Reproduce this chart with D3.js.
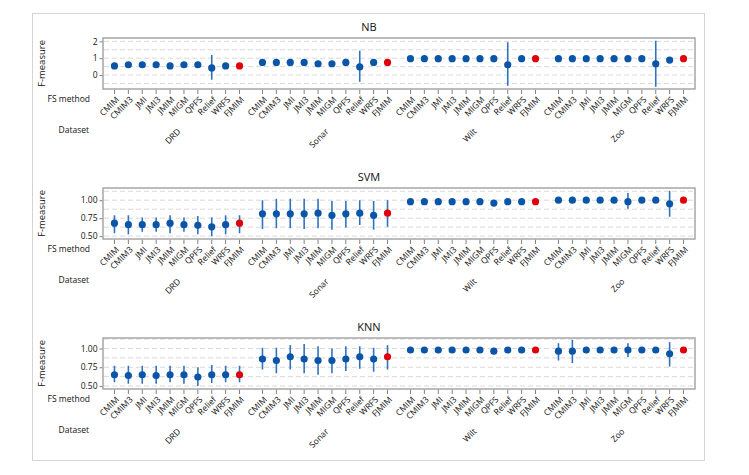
<!doctype html>
<html>
  <head>
    <meta charset="utf-8">
    <title>F-measure interval plot</title>
    <script src="https://d3js.org/d3.v7.min.js"></script>
    <style type="text/css">
      body { margin: 0; background-color: #ffffff; }
      text { font-family: "Open Sans", "Noto Sans", sans-serif; fill: #111111; }
    </style>
  </head>
  <body>
    <script>
      // categories
      var datasets = ["DRD", "Sonar", "Wilt", "Zoo"];
      var methods = ["CMIM", "CMIM3", "JMI", "JMI3", "JMIM", "MIGM", "QPFS", "Relief", "WRFS", "FJMIM"];
      var classifiers = ["NB", "SVM", "KNN"];

      // NB (order: DRD, Sonar, Wilt, Zoo; methods as above)
      var nbMean = [0.54, 0.61, 0.61, 0.61, 0.54, 0.61, 0.61, 0.42, 0.54, 0.54,
                    0.75, 0.75, 0.75, 0.75, 0.67, 0.67, 0.75, 0.48, 0.75, 0.75,
                    0.97, 0.97, 0.97, 0.97, 0.97, 0.97, 0.97, 0.61, 0.97, 0.97,
                    0.97, 0.97, 0.97, 0.97, 0.97, 0.97, 0.97, 0.67, 0.89, 0.97];
      var nbLow  = [0.50, 0.57, 0.57, 0.57, 0.50, 0.57, 0.57, -0.28, 0.50, 0.50,
                    0.70, 0.70, 0.70, 0.70, 0.57, 0.58, 0.70, -0.40, 0.70, 0.64,
                    0.95, 0.95, 0.95, 0.95, 0.95, 0.95, 0.95, -0.64, 0.95, 0.95,
                    0.95, 0.95, 0.95, 0.95, 0.95, 0.95, 0.95, -0.70, 0.80, 0.95];
      var nbHigh = [0.58, 0.65, 0.65, 0.65, 0.58, 0.65, 0.65, 1.19, 0.58, 0.58,
                    0.80, 0.80, 0.80, 0.80, 0.80, 0.76, 0.80, 1.45, 0.80, 0.86,
                    0.99, 0.99, 0.99, 0.99, 0.99, 0.99, 0.99, 1.95, 0.99, 0.99,
                    0.99, 0.99, 0.99, 0.99, 0.99, 0.99, 0.99, 2.04, 0.98, 0.99];

      // SVM
      var svmMean = [0.68, 0.66, 0.66, 0.66, 0.68, 0.66, 0.65, 0.63, 0.66, 0.68,
                     0.81, 0.81, 0.81, 0.81, 0.82, 0.79, 0.81, 0.82, 0.79, 0.82,
                     0.98, 0.98, 0.98, 0.98, 0.98, 0.98, 0.96, 0.98, 0.98, 0.98,
                     1.00, 1.00, 1.00, 1.00, 1.00, 0.98, 1.00, 1.00, 0.95, 1.00];
      var svmLow  = [0.54, 0.525, 0.56, 0.56, 0.54, 0.56, 0.525, 0.50, 0.525, 0.54,
                     0.60, 0.61, 0.61, 0.60, 0.61, 0.59, 0.62, 0.655, 0.59, 0.63,
                     0.97, 0.97, 0.97, 0.97, 0.97, 0.97, 0.95, 0.97, 0.97, 0.97,
                     0.99, 0.98, 0.99, 0.99, 0.99, 0.88, 0.99, 0.99, 0.77, 0.99];
      var svmHigh = [0.79, 0.79, 0.76, 0.76, 0.79, 0.76, 0.78, 0.76, 0.79, 0.79,
                     1.00, 1.02, 1.02, 1.02, 1.02, 0.99, 0.99, 1.00, 0.99, 1.00,
                     0.99, 0.99, 0.99, 0.99, 0.99, 0.99, 0.97, 0.99, 0.99, 0.99,
                     1.01, 1.02, 1.01, 1.01, 1.01, 1.10, 1.01, 1.01, 1.13, 1.01];

      // KNN
      var knnMean = [0.65, 0.64, 0.65, 0.64, 0.65, 0.65, 0.62, 0.65, 0.65, 0.65,
                     0.86, 0.84, 0.89, 0.86, 0.84, 0.84, 0.86, 0.89, 0.86, 0.89,
                     0.98, 0.98, 0.98, 0.98, 0.98, 0.98, 0.965, 0.98, 0.98, 0.98,
                     0.965, 0.965, 0.98, 0.98, 0.98, 0.98, 0.98, 0.98, 0.93, 0.98];
      var knnLow  = [0.55, 0.53, 0.53, 0.53, 0.55, 0.53, 0.50, 0.54, 0.55, 0.55,
                     0.72, 0.67, 0.72, 0.67, 0.65, 0.67, 0.70, 0.73, 0.69, 0.72,
                     0.97, 0.97, 0.97, 0.97, 0.97, 0.97, 0.955, 0.97, 0.97, 0.97,
                     0.84, 0.805, 0.97, 0.97, 0.97, 0.886, 0.97, 0.97, 0.76, 0.97];
      var knnHigh = [0.77, 0.77, 0.77, 0.77, 0.77, 0.77, 0.75, 0.78, 0.77, 0.77,
                     1.01, 1.01, 1.045, 1.06, 1.03, 1.00, 1.03, 1.03, 1.01, 1.045,
                     0.99, 0.99, 0.99, 0.99, 0.99, 0.99, 0.975, 0.99, 0.99, 0.99,
                     1.07, 1.115, 0.99, 0.99, 0.99, 1.07, 0.99, 0.99, 1.085, 0.99];

      // axis settings
      var yDomains = [[-0.83, 2.2], [0.46, 1.17], [0.46, 1.14]];
      var yTicks = [[0, 1, 2], [0.5, 0.75, 1.0], [0.5, 0.75, 1.0]];
      var yGrid = [[-0.5, 0, 0.5, 1, 1.5, 2],
                   [0.5, 0.625, 0.75, 0.875, 1.0, 1.125],
                   [0.5, 0.625, 0.75, 0.875, 1.0, 1.125]];
      var yFormats = [d3.format("d"), d3.format(".2f"), d3.format(".2f")];

      var allMean = [nbMean, svmMean, knnMean];
      var allLow = [nbLow, svmLow, knnLow];
      var allHigh = [nbHigh, svmHigh, knnHigh];

      var w = 749;
      var h = 475;
      var left = 103, right = 695;
      var plotH = 51;

      var svg = d3.select("body")
        .append("svg")
        .attr("width", w)
        .attr("height", h);

      // outer frame
      svg.append("rect")
        .attr("x", 32.5).attr("y", 13.5)
        .attr("width", 672).attr("height", 447)
        .style("fill", "none")
        .style("stroke", "#d4d4d4");

      // x scales
      var xGroup = d3.scaleBand()
        .domain(datasets)
        .range([left, right])
        .paddingInner(0.155)
        .paddingOuter(0.0775);

      var xMethod = d3.scalePoint()
        .domain(methods)
        .range([0, xGroup.bandwidth()]);

      // build rows for the library
      function rows(k) {
        var out = [];
        datasets.forEach(function(ds, i) {
          methods.forEach(function(m, j) {
            var n = i * methods.length + j;
            out.push({ ds: ds, m: m, mean: allMean[k][n], lo: allLow[k][n], hi: allHigh[k][n] });
          });
        });
        return out;
      }

      classifiers.forEach(function(name, k) {
        var top = 38 + 150 * k;
        var bottom = top + plotH;
        var g = svg.append("g");

        var y = d3.scaleLinear()
          .domain(yDomains[k])
          .range([bottom, top]);

        var data = rows(k);
        function px(d) { return xGroup(d.ds) + xMethod(d.m); }

        // plot background
        g.append("rect")
          .attr("x", left).attr("y", top)
          .attr("width", right - left).attr("height", plotH)
          .style("fill", "#ffffff");

        // dashed gridlines
        g.selectAll("line.grid")
          .data(yGrid[k])
          .enter()
          .append("line")
          .attr("class", "grid")
          .attr("x1", left + 1).attr("x2", right - 1)
          .attr("y1", function(d) { return y(d); })
          .attr("y2", function(d) { return y(d); })
          .style("stroke", "#d9d9d9")
          .style("stroke-dasharray", "5,3");

        // border
        g.append("rect")
          .attr("x", left).attr("y", top)
          .attr("width", right - left).attr("height", plotH)
          .style("fill", "none")
          .style("stroke", "#a6a6a6")
          .style("stroke-width", 1.5);

        // y axis
        var yAxis = d3.axisLeft(y)
          .tickValues(yTicks[k])
          .tickSize(3)
          .tickPadding(2)
          .tickFormat(yFormats[k]);
        var ya = g.append("g")
          .attr("transform", "translate(" + (left - 0.5) + ",0)")
          .call(yAxis);
        ya.select(".domain").remove();
        ya.selectAll("line").style("stroke", "#808080");
        ya.selectAll("text")
          .style("font-size", "8.5px")
          .style("font-family", "'Open Sans', sans-serif")
          .style("fill", "#111111");

        // x ticks
        g.selectAll("line.xt")
          .data(data)
          .enter()
          .append("line")
          .attr("class", "xt")
          .attr("x1", px).attr("x2", px)
          .attr("y1", bottom + 0.75).attr("y2", bottom + 5)
          .style("stroke", "#808080");

        // method labels
        g.selectAll("text.ml")
          .data(data)
          .enter()
          .append("text")
          .attr("class", "ml")
          .attr("transform", function(d) { return "translate(" + (px(d) + 3) + "," + (bottom + 9) + ") rotate(-45)"; })
          .attr("text-anchor", "end")
          .attr("dy", "0.35em")
          .style("font-size", "8.5px")
          .text(function(d) { return d.m; });

        // dataset labels
        g.selectAll("text.dl")
          .data(datasets)
          .enter()
          .append("text")
          .attr("class", "dl")
          .attr("transform", function(d) { return "translate(" + (xGroup(d) + xGroup.bandwidth() / 2 + 2) + "," + (bottom + 41) + ") rotate(-45)"; })
          .attr("text-anchor", "end")
          .attr("dy", "0.35em")
          .style("font-size", "8.5px")
          .text(function(d) { return d; });

        g.append("text")
          .attr("x", 90).attr("y", bottom + 13)
          .attr("text-anchor", "end")
          .style("font-size", "8.5px")
          .text("FS method");

        g.append("text")
          .attr("x", 89).attr("y", bottom + 44)
          .attr("text-anchor", "end")
          .style("font-size", "8.5px")
          .text("Dataset");

        // y title
        g.append("text")
          .attr("transform", "translate(45," + (top + plotH / 2) + ") rotate(-90)")
          .attr("text-anchor", "middle")
          .style("font-size", "9.5px")
          .text("F-measure");

        // panel title
        g.append("text")
          .attr("x", 369).attr("y", top - 7)
          .attr("text-anchor", "middle")
          .style("font-size", "11px")
          .text(name);

        // interval bars
        g.selectAll("line.bar")
          .data(data)
          .enter()
          .append("line")
          .attr("class", "bar")
          .attr("x1", px).attr("x2", px)
          .attr("y1", function(d) { return y(d.lo); })
          .attr("y2", function(d) { return y(d.hi); })
          .style("stroke", "#2f72c0")
          .style("stroke-width", 1.6);

        // mean points
        g.selectAll("circle")
          .data(data)
          .enter()
          .append("circle")
          .attr("cx", px)
          .attr("cy", function(d) { return y(d.mean); })
          .attr("r", 3.6)
          .style("fill", function(d) { return d.m === "FJMIM" ? "#e0000b" : "#0a55a8"; });
      });
    </script>
  </body>
</html>
